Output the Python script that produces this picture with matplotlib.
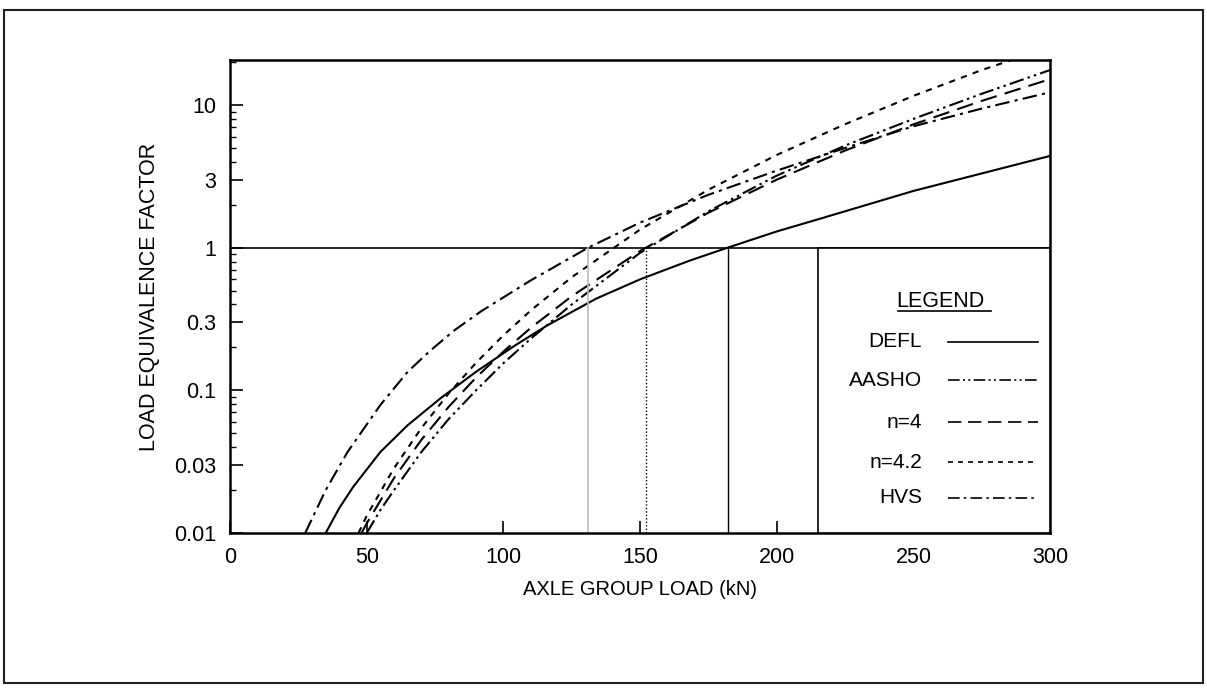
import numpy as np
import matplotlib.pyplot as plt
from matplotlib.patches import Rectangle
from matplotlib.ticker import FixedLocator, NullFormatter, LogLocator

plt.rcParams['font.family'] = ['Liberation Sans', 'DejaVu Sans']

# axle group load (kN) vs load equivalence factor, one set per method
defl_x = [35, 40, 45, 55, 65, 77, 90, 104, 116, 134, 150, 168, 182, 200, 216, 250, 300]
defl_y = [0.01, 0.015, 0.021, 0.037, 0.057, 0.088, 0.135, 0.205, 0.285, 0.44, 0.60, 0.81,
          1.0, 1.30, 1.60, 2.5, 4.4]

aasho_x = [50, 55, 60, 70, 80, 90, 100, 110, 125, 150, 175, 200, 225, 250, 275, 300]
aasho_y = [0.01, 0.0145, 0.02, 0.037, 0.063, 0.10, 0.155, 0.23, 0.40, 0.92, 1.8, 3.2,
           5.2, 8.0, 12.0, 17.6]

n4_x = [48, 50, 60, 70, 80, 90, 100, 110, 125, 150, 175, 200, 225, 250, 275, 300]
n4_y = [0.0099, 0.0117, 0.0243, 0.045, 0.0767, 0.123, 0.187, 0.274, 0.457, 0.948, 1.76,
        3.0, 4.8, 7.32, 10.7, 15.2]

n42_x = [47, 50, 60, 70, 80, 90, 100, 110, 125, 150, 175, 200, 225, 250, 275, 300]
n42_y = [0.01, 0.0132, 0.0285, 0.0544, 0.0953, 0.156, 0.243, 0.363, 0.621, 1.34, 2.55,
         4.47, 7.34, 11.6, 17.6, 25.5]

hvs_x = [27.5, 35, 43, 55, 65, 73, 82, 92, 110, 131, 150, 175, 200, 225, 250, 275, 300]
hvs_y = [0.01, 0.02, 0.037, 0.079, 0.135, 0.188, 0.263, 0.36, 0.59, 1.0, 1.5, 2.35,
         3.47, 5.0, 7.1, 9.45, 12.3]

# loads where the curves reach an equivalence factor of 1
ref_loads = [131, 152, 182]

fig = plt.figure(figsize=(12.07, 6.88), dpi=100)
ax = fig.add_axes([0.1906, 0.2253, 0.6794, 0.6875])

lw = 1.5
ax.plot(defl_x, defl_y, color='black', lw=lw, ls='-')
ax.plot(aasho_x, aasho_y, color='black', lw=lw, ls=(0, (7, 2, 1.2, 2, 1.2, 2)))
ax.plot(n4_x, n4_y, color='black', lw=lw, ls=(0, (8, 4)))
ax.plot(n42_x, n42_y, color='black', lw=lw, ls=(0, (3, 3)))
ax.plot(hvs_x, hvs_y, color='black', lw=lw, ls=(0, (7, 2.5, 1.5, 2.5)))

# reference lines at LEF = 1
ax.axhline(1, color='black', lw=1.2)
ax.plot([ref_loads[0]] * 2, [0.01, 1], color='#bbbbbb', lw=1.2)
ax.plot([ref_loads[1]] * 2, [0.01, 1], color='black', lw=1.0, ls=(0, (1, 1.5)))
ax.plot([ref_loads[2]] * 2, [0.01, 1], color='black', lw=1.0)

ax.set_yscale('log')
ax.set_xlim(0, 300)
ax.set_ylim(0.01, 20.7)

ax.set_xticks([0, 50, 100, 150, 200, 250, 300])
yt = [0.01, 0.03, 0.1, 0.3, 1, 3, 10]
ax.yaxis.set_major_locator(FixedLocator(yt))
ax.set_yticklabels(['0.01', '0.03', '0.1', '0.3', '1', '3', '10'])
ax.yaxis.set_minor_locator(LogLocator(base=10, subs=[2, 4, 5, 6, 7, 8, 9]))
ax.yaxis.set_minor_formatter(NullFormatter())

ax.tick_params(axis='both', which='major', direction='in', length=9, width=1.2,
               labelsize=15.5, pad=10)
ax.tick_params(axis='y', which='minor', direction='in', length=4, width=1.0)

for s in ax.spines.values():
    s.set_linewidth(1.8)

ax.set_xlabel('AXLE GROUP LOAD (kN)', fontsize=14.5, labelpad=9)
ax.set_ylabel('LOAD EQUIVALENCE FACTOR', fontsize=15.5, labelpad=10)

# legend box in the lower right corner
ax.add_patch(Rectangle((215, 0.01), 85, 0.99, facecolor='white', edgecolor='black',
                       lw=1.2, zorder=3))

ax.text(0.866, 0.490, 'LEGEND', transform=ax.transAxes, ha='center', va='center',
        fontsize=15.5, zorder=4)
ax.plot([0.815, 0.928], [0.469, 0.469], transform=ax.transAxes, color='black',
        lw=1.2, zorder=4)

names = ['DEFL', 'AASHO', 'n=4', 'n=4.2', 'HVS']
styles = ['-', (0, (7, 2, 1.2, 2, 1.2, 2)), (0, (8, 4)), (0, (3, 3)),
          (0, (7, 2.5, 1.5, 2.5))]
rows = [0.404, 0.323, 0.234, 0.150, 0.074]
for name, st, yy in zip(names, styles, rows):
    ax.text(0.844, yy, name, transform=ax.transAxes, ha='right', va='center',
            fontsize=15, zorder=4)
    ax.plot([0.876, 0.985], [yy, yy], transform=ax.transAxes, color='black',
            lw=1.2, ls=st, zorder=4)

# page frame
fig.patches.append(Rectangle((0.003, 0.007), 0.994, 0.978, transform=fig.transFigure,
                             fill=False, edgecolor='#222222', lw=1.5))

fig.savefig('out.png', dpi=100)
